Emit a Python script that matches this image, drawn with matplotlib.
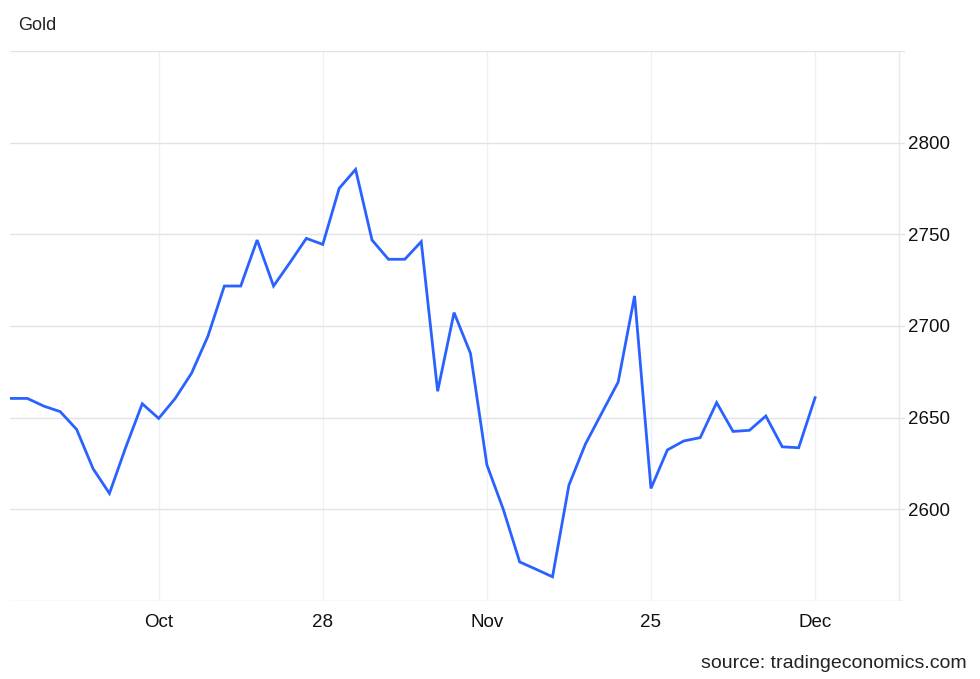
import matplotlib
matplotlib.use('Agg')
from matplotlib import pyplot as plt

plt.rcParams['font.family'] = ['Liberation Sans', 'DejaVu Sans']

# daily gold price
price = [2660.5, 2660.5, 2656.3, 2653.3, 2643.6, 2622.2, 2608.7, 2634.0, 2657.6, 2649.6,
         2660.4, 2674.2, 2694.4, 2721.8, 2721.8, 2746.9, 2721.8, 2734.6, 2747.8, 2744.5,
         2775.1, 2785.4, 2746.9, 2736.4, 2736.4, 2746.0, 2664.4, 2707.3, 2685.1, 2624.3,
         2600.0, 2571.3, 2567.3, 2563.2, 2613.2, 2635.5, 2652.5, 2669.4, 2716.4, 2611.4,
         2632.4, 2637.3, 2639.1, 2658.2, 2642.5, 2643.1, 2650.9, 2634.1, 2633.6, 2660.9]
x_ticks = [9, 19, 29, 39, 49]
x_labels = ['Oct', '28', 'Nov', '25', 'Dec']
y_grid = [2550, 2600, 2650, 2700, 2750, 2800, 2850]
y_labels = ['', '2600', '2650', '2700', '2750', '2800', '']

fig = plt.figure(figsize=(9.8, 6.79), dpi=100)
ax = fig.add_axes([10/980, 78/679, 895/980, 550/679])

for t in x_ticks:
    ax.axvline(t, color='#edf1f6', lw=1, zorder=0)
ax.axvline(54.1, color='#e6e9ee', lw=1, zorder=0)
for v in y_grid:
    ax.axhline(v, color='#e3e3e3', lw=1, zorder=0)

ax.plot(range(len(price)), price, color='#2962ff', lw=2.0, solid_joinstyle='miter', zorder=3)

ax.set_xlim(-0.06, 54.48)
ax.set_ylim(2550, 2850)
ax.set_xticks(x_ticks, x_labels)
ax.set_yticks(y_grid, y_labels)
ax.yaxis.tick_right()
ax.tick_params(axis='both', length=0, labelsize=13.5, colors='#111111')
ax.tick_params(axis='x', pad=9.5)
ax.tick_params(axis='y', pad=2)
for s in ax.spines.values():
    s.set_visible(False)

fig.text(18/980, 1 - 26/679, 'Gold', fontsize=13, color='#222222', va='center', ha='left')
fig.text(967/980, 1 - 663/679, 'source: tradingeconomics.com', fontsize=14, color='#222222',
         va='center', ha='right')

fig.savefig('out.png', dpi=100)
